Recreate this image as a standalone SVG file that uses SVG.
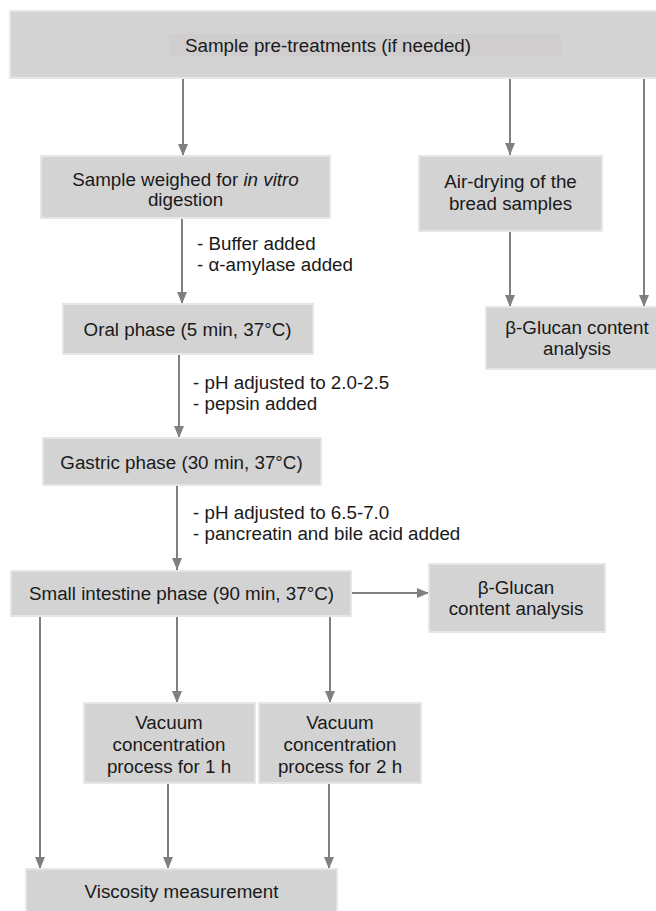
<svg xmlns="http://www.w3.org/2000/svg" width="656" height="911" viewBox="0 0 656 911">
<style>
.box{fill:#d3d3d3;stroke:#e6e6e6;stroke-width:2}
.t{font-family:"Liberation Sans",Arial,sans-serif;font-size:18.8px;fill:#1a1a1a}
.c{text-anchor:middle}
.ln{stroke:#808080;stroke-width:2;fill:none;marker-end:url(#ah)}
</style>
<defs>
<marker id="ah" markerUnits="userSpaceOnUse" markerWidth="12" markerHeight="12" viewBox="0 0 12 12" refX="12" refY="6" orient="auto">
<path d="M0,1 L12,6 L0,11 Z" fill="#808080"/>
</marker>
</defs>
<rect width="656" height="911" fill="#ffffff"/>
<g id="connectors">
<line class="ln" x1="183" y1="78" x2="183" y2="156"/>
<line class="ln" x1="510" y1="78" x2="510" y2="155"/>
<line class="ln" x1="644" y1="78" x2="644" y2="307"/>
<line class="ln" x1="182" y1="218" x2="182" y2="304"/>
<line class="ln" x1="510" y1="231" x2="510" y2="307"/>
<line class="ln" x1="179" y1="354" x2="179" y2="438"/>
<line class="ln" x1="177" y1="485" x2="177" y2="570"/>
<line class="ln" x1="346" y1="593" x2="429" y2="593"/>
<line class="ln" x1="40" y1="616" x2="40" y2="869"/>
<line class="ln" x1="177" y1="616" x2="177" y2="703"/>
<line class="ln" x1="330" y1="616" x2="330" y2="703"/>
<line class="ln" x1="168" y1="783" x2="168" y2="869"/>
<line class="ln" x1="329" y1="783" x2="329" y2="869"/>
</g>
<g id="annotations">
<text class="t" x="197" y="250">- Buffer added</text>
<text class="t" x="197" y="271">- α-amylase added</text>
<text class="t" x="193" y="389">- pH adjusted to 2.0-2.5</text>
<text class="t" x="193" y="410">- pepsin added</text>
<text class="t" x="193" y="519">- pH adjusted to 6.5-7.0</text>
<text class="t" x="193" y="540">- pancreatin and bile acid added</text>
</g>
<g id="pretreat">
<rect class="box" x="10" y="11" width="650" height="67"/>
<rect x="169" y="34" width="392" height="22" fill="#cfcdce"/>
<text class="t" x="185" y="52">Sample pre-treatments (if needed)</text>
</g>
<g id="weighed">
<rect class="box" x="41" y="156" width="289" height="62"/>
<text class="t c" x="185.5" y="186">Sample weighed for <tspan font-style="italic">in vitro</tspan></text>
<text class="t c" x="185.5" y="206">digestion</text>
</g>
<g id="airdry">
<rect class="box" x="419" y="156" width="183" height="75"/>
<text class="t c" x="510.5" y="188">Air-drying of the</text>
<text class="t c" x="510.5" y="210">bread samples</text>
</g>
<g id="glucan1">
<rect class="box" x="486" y="307" width="174" height="62"/>
<text class="t c" x="577" y="334">β-Glucan content</text>
<text class="t c" x="577" y="355">analysis</text>
</g>
<g id="oral">
<rect class="box" x="63" y="304" width="250" height="50"/>
<text class="t c" x="187.5" y="336">Oral phase (5 min, 37°C)</text>
</g>
<g id="gastric">
<rect class="box" x="43" y="438" width="278" height="47"/>
<text class="t c" x="181.5" y="469">Gastric phase (30 min, 37°C)</text>
</g>
<g id="smallint">
<rect class="box" x="11" y="571" width="340" height="45"/>
<text class="t c" x="181.5" y="600">Small intestine phase (90 min, 37°C)</text>
</g>
<g id="glucan2">
<rect class="box" x="429" y="564" width="176" height="68"/>
<text class="t c" x="516" y="594">β-Glucan</text>
<text class="t c" x="516" y="615">content analysis</text>
</g>
<g id="vacuum1">
<rect class="box" x="84" y="703" width="171" height="80"/>
<text class="t c" x="169" y="729">Vacuum</text>
<text class="t c" x="169" y="751">concentration</text>
<text class="t c" x="169" y="773">process for 1 h</text>
</g>
<g id="vacuum2">
<rect class="box" x="259" y="703" width="162" height="80"/>
<text class="t c" x="340" y="729">Vacuum</text>
<text class="t c" x="340" y="751">concentration</text>
<text class="t c" x="340" y="773">process for 2 h</text>
</g>
<g id="viscosity">
<rect class="box" x="26" y="869" width="311" height="46"/>
<text class="t c" x="181.5" y="898">Viscosity measurement</text>
</g>
</svg>
